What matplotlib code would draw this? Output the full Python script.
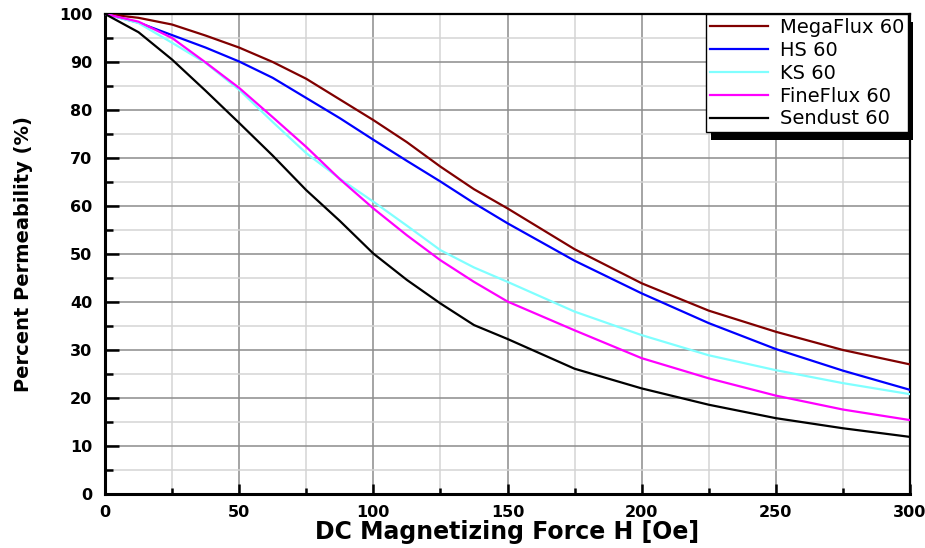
import matplotlib
matplotlib.use('Agg')
import matplotlib.pyplot as plt
import matplotlib.patches as patches
from matplotlib.ticker import MultipleLocator
import numpy as np

# DC bias curves
H = [0, 12.5, 25, 37.5, 50, 62.5, 75, 87.5, 100, 112.5, 125, 137.5, 150,
     175, 200, 225, 250, 275, 300]
megaflux = [100, 99.2, 97.8, 95.5, 93.0, 90.0, 86.5, 82.2, 77.9, 73.3, 68.2,
            63.5, 59.5, 51.0, 43.9, 38.2, 33.8, 30.0, 27.0]
hs = [100, 98.2, 95.6, 93.0, 90.1, 86.7, 82.5, 78.3, 73.8, 69.4, 65.1,
      60.6, 56.4, 48.6, 41.8, 35.6, 30.2, 25.7, 21.7]
ks = [100, 98.1, 94.0, 89.8, 84.2, 77.5, 71.0, 65.7, 60.9, 55.9, 50.8,
      47.2, 44.2, 38.0, 33.1, 28.9, 25.8, 23.1, 20.8]
fineflux = [100, 98.4, 95.0, 89.9, 84.6, 78.5, 72.3, 65.6, 59.5, 53.9, 48.7,
            44.2, 40.1, 34.1, 28.3, 24.1, 20.5, 17.6, 15.4]
sendust = [100, 96.2, 90.5, 84.0, 77.3, 70.5, 63.3, 56.9, 50.1, 44.6, 39.7,
           35.2, 32.3, 26.1, 22.0, 18.6, 15.8, 13.7, 11.9]

labels = ['MegaFlux 60', 'HS 60', 'KS 60', 'FineFlux 60', 'Sendust 60']
colors = ['#800000', '#0000ff', '#80ffff', '#ff00ff', '#000000']

plt.rcParams['font.family'] = ['DejaVu Sans']

fig = plt.figure(figsize=(9.25, 5.48), dpi=100)
ax = fig.add_axes([0.1135, 0.0985, 0.8703, 0.876])

for y, lab, c in zip([megaflux, hs, ks, fineflux, sendust], labels, colors):
    ax.plot(H, y, color=c, lw=1.6, label=lab, zorder=3)

ax.set_xlim(0, 300)
ax.set_ylim(0, 100)
ax.xaxis.set_major_locator(MultipleLocator(50))
ax.xaxis.set_minor_locator(MultipleLocator(25))
ax.yaxis.set_major_locator(MultipleLocator(10))
ax.yaxis.set_minor_locator(MultipleLocator(5))

ax.grid(which='major', color='#8c8c8c', lw=1.1, zorder=0)
ax.grid(which='minor', color='#d4d4d4', lw=1.1, zorder=0)

ax.tick_params(axis='x', which='major', direction='in', length=7, width=1.8, pad=8)
ax.tick_params(axis='x', which='minor', direction='in', length=4, width=1.8)
ax.tick_params(axis='y', which='major', direction='in', length=10, width=1.8, pad=9)
ax.tick_params(axis='y', which='minor', direction='in', length=6, width=1.8)
for lbl in ax.get_xticklabels() + ax.get_yticklabels():
    lbl.set_fontweight('bold')
    lbl.set_fontsize(11.5)

for s in ['left', 'bottom']:
    ax.spines[s].set_linewidth(2.2)
for s in ['top', 'right']:
    ax.spines[s].set_linewidth(1.6)

ax.set_xlabel('DC Magnetizing Force H [Oe]', fontsize=17, fontweight='bold', labelpad=0)
ax.set_ylabel('Percent Permeability (%)', fontsize=14, fontweight='bold', labelpad=19)

leg = ax.legend(loc='upper right', bbox_to_anchor=(0.998, 1.0), borderaxespad=0,
                fontsize=14, frameon=True, fancybox=False, framealpha=1,
                edgecolor='black', handlelength=3.0, labelspacing=0.2,
                borderpad=0.2, handletextpad=0.6)
leg.get_frame().set_linewidth(1.0)
leg.set_zorder(6)

# hard black drop shadow behind the legend box
fig.canvas.draw()
bb = leg.get_window_extent().transformed(ax.transAxes.inverted())
shadow = patches.Rectangle((bb.x0 + 0.006, bb.y0 - 0.017), bb.width, bb.height,
                           transform=ax.transAxes, facecolor='black',
                           edgecolor='none', zorder=5, clip_on=False)
ax.add_patch(shadow)

fig.savefig('out.png', dpi=100)
